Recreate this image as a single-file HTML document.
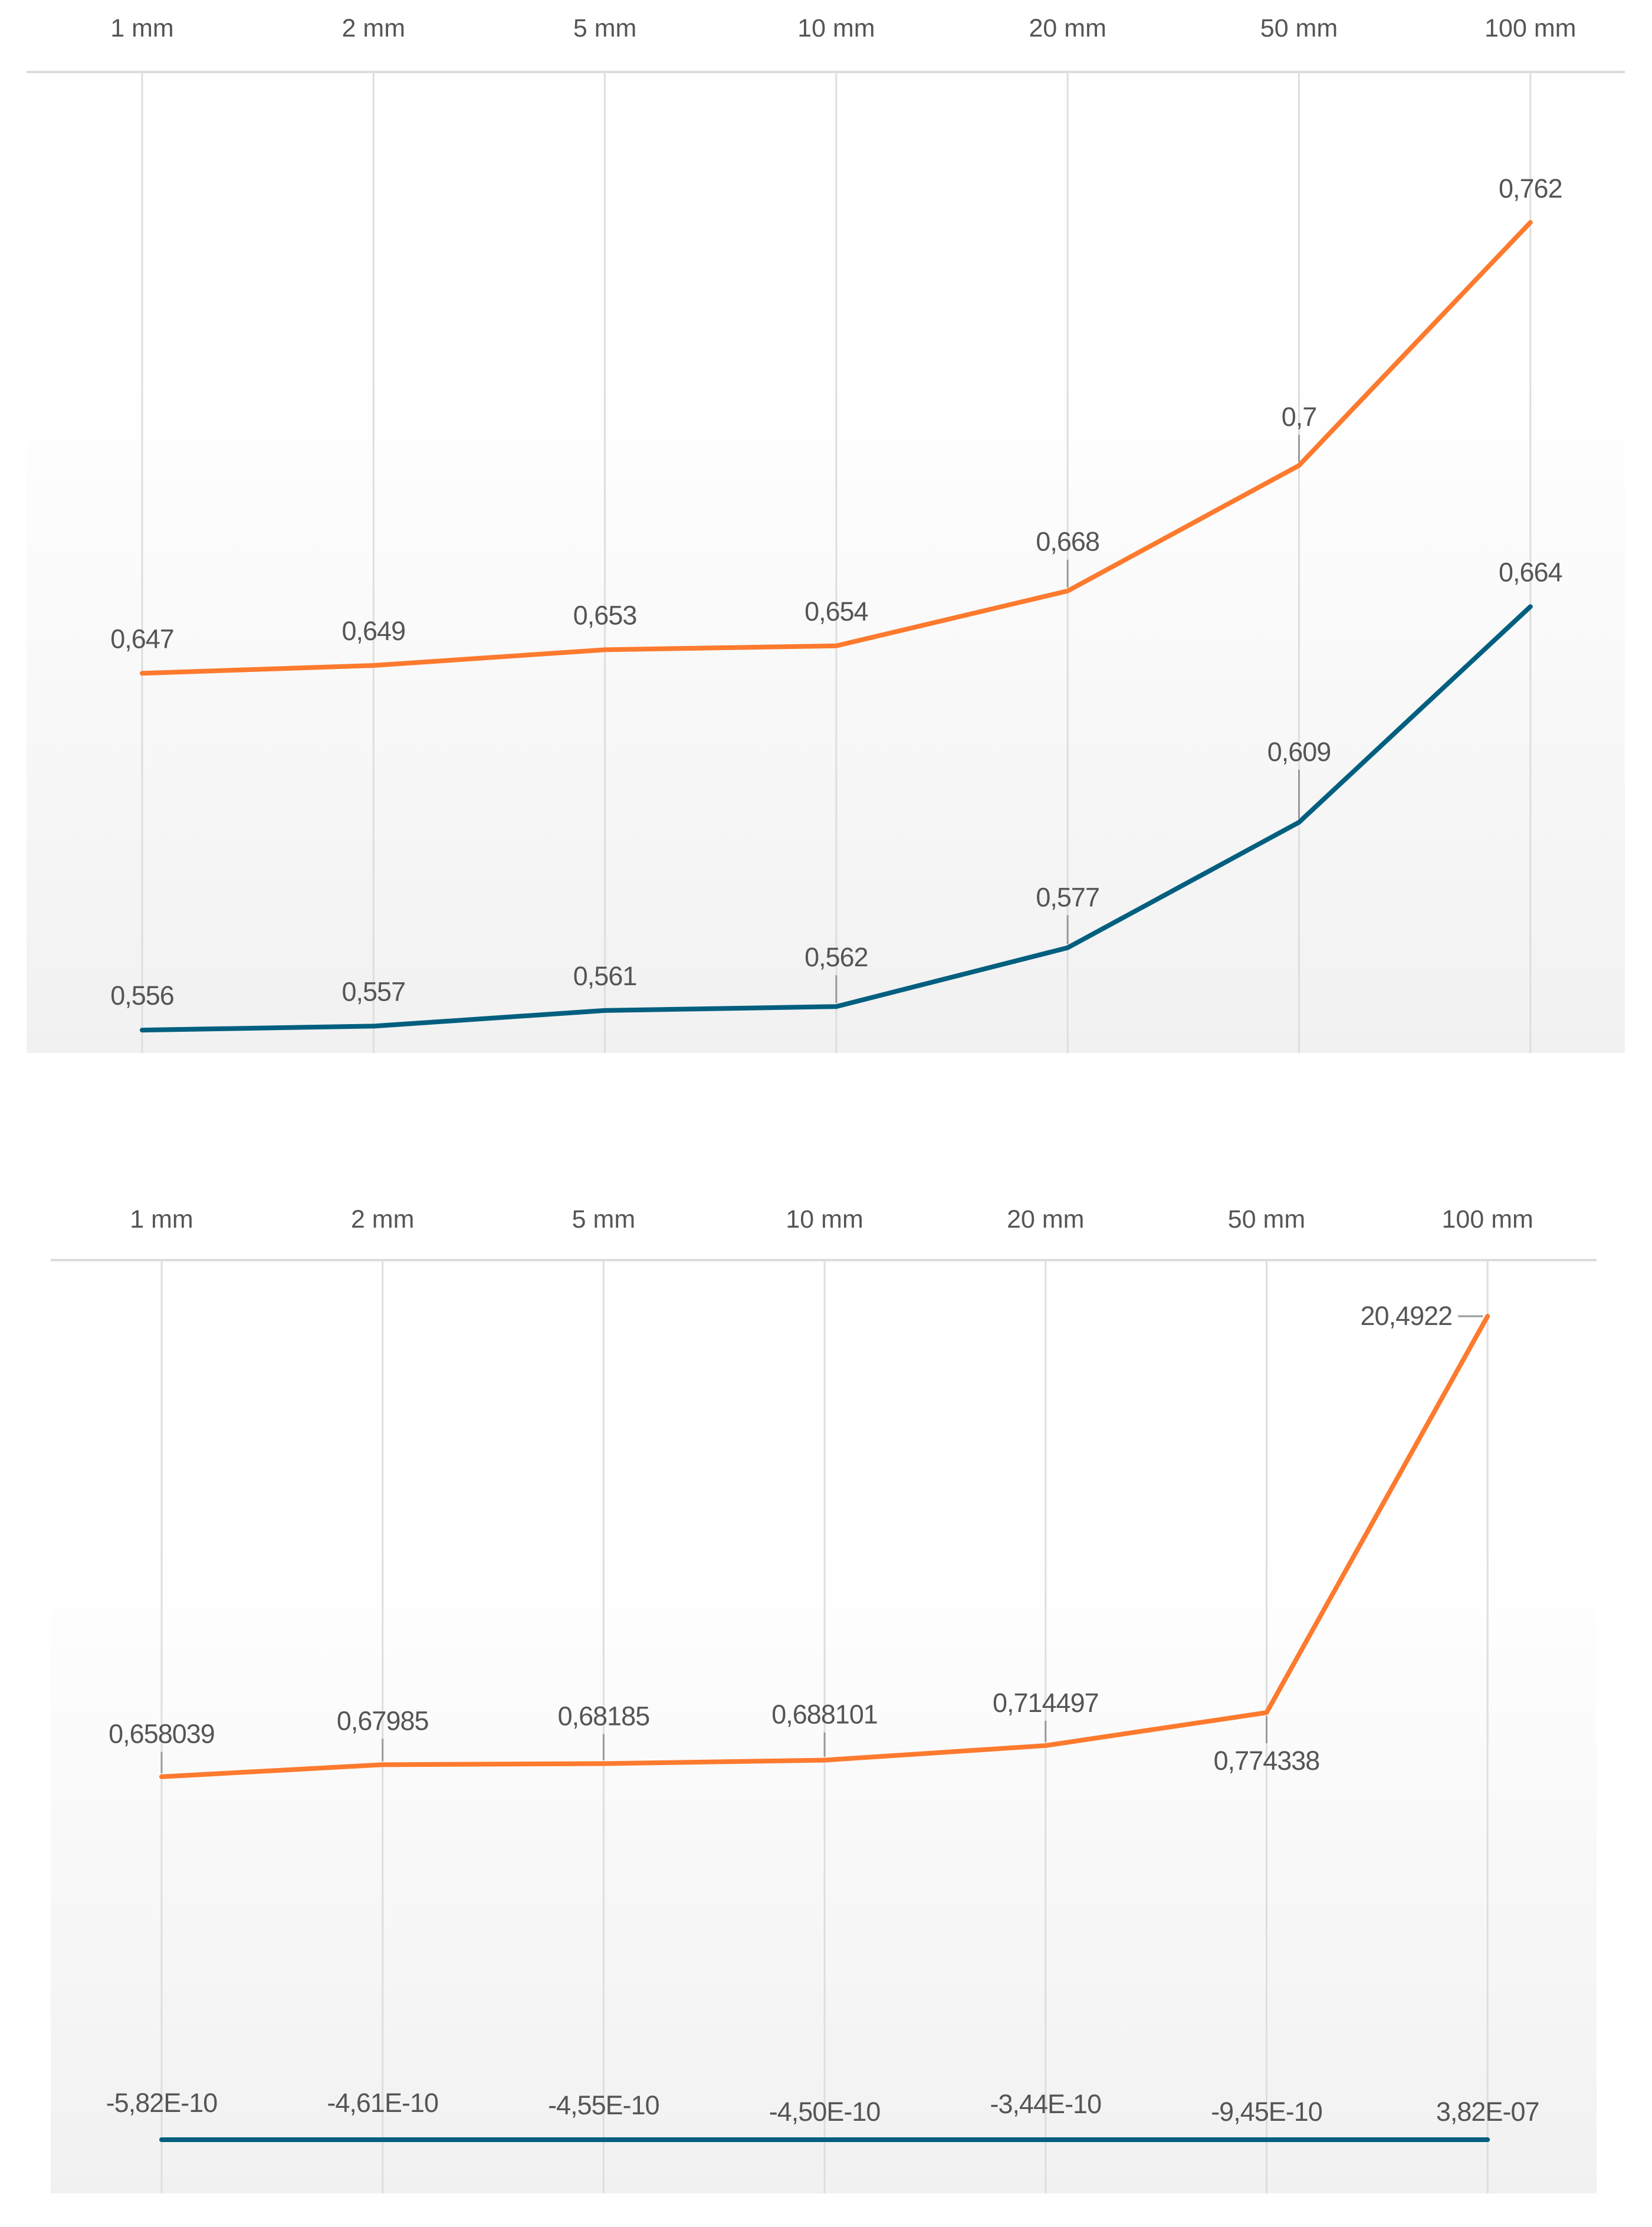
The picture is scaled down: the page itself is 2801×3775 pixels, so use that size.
<!DOCTYPE html>
<html><head><meta charset="utf-8">
<style>
html,body{margin:0;padding:0;background:#fff;}
svg{display:block;}
text{font-family:"Liberation Sans",sans-serif;fill:#555;}
</style></head>
<body>
<svg id="chart" width="2801" height="3775" viewBox="0 0 2801 3775" xmlns="http://www.w3.org/2000/svg">
<defs>
<linearGradient id="bg" x1="0" y1="0" x2="0" y2="1">
<stop offset="0" stop-color="#ffffff"/>
<stop offset="0.3" stop-color="#ffffff"/>
<stop offset="1" stop-color="#f1f1f1"/>
</linearGradient>
</defs>
</svg>
<script>
const categories = ["1 mm","2 mm","5 mm","10 mm","20 mm","50 mm","100 mm"];
const c1Orange = [0.647,0.649,0.653,0.654,0.668,0.7,0.762];
const c1Blue = [0.556,0.557,0.561,0.562,0.577,0.609,0.664];
const c1OrangeLabels = ["0,647","0,649","0,653","0,654","0,668","0,7","0,762"];
const c1BlueLabels = ["0,556","0,557","0,561","0,562","0,577","0,609","0,664"];
const c2Orange = [0.658039,0.67985,0.68185,0.688101,0.714497,0.774338,20.4922];
const c2Blue = [-5.82e-10,-4.61e-10,-4.55e-10,-4.50e-10,-3.44e-10,-9.45e-10,3.82e-07];
const c2OrangeLabels = ["0,658039","0,67985","0,68185","0,688101","0,714497","0,774338","20,4922"];
const c2BlueLabels = ["-5,82E-10","-4,61E-10","-4,55E-10","-4,50E-10","-3,44E-10","-9,45E-10","3,82E-07"];

const svg = document.getElementById('chart');
const NS = "http://www.w3.org/2000/svg";
function mk(tag, attrs){const e=document.createElementNS(NS,tag);for(const k in attrs)e.setAttribute(k,attrs[k]);svg.appendChild(e);return e;}

function drawChart(cfg){
  const bg = mk('rect',{x:cfg.left,y:cfg.top,width:cfg.right-cfg.left,height:cfg.bottom-cfg.top,fill:'url(#bg)'});
  
  
  const hl = mk('line',{x1:cfg.left,x2:cfg.right,y1:cfg.top,y2:cfg.top,stroke:'#dcdcdc','stroke-width':4});
  
  
  const xs = i => cfg.x0 + i*cfg.step;
  categories.forEach((c,i)=>{
    const g = mk('line',{x1:xs(i),x2:xs(i),y1:cfg.top,y2:cfg.bottom,stroke:'#dedede','stroke-width':3});
    
    
    const t = mk('text',{x:xs(i),y:cfg.labelY,'text-anchor':'middle','font-size':43});
    t.textContent = c;
    
    
  });
  cfg.series.forEach(s=>{
    const pts = s.values.map((v,i)=>xs(i)+','+cfg.y(v)).join(' ');
    const pl = mk('polyline',{points:pts,fill:'none',stroke:s.color,'stroke-width':8,'stroke-linejoin':'round','stroke-linecap':'round'});
    
    
    s.values.forEach((v,i)=>{
      const px = xs(i), py = cfg.y(v);
      const off = s.lift[i];
      let tx = px, ty = py - off, anchor='middle';
      if (s.side && s.side[i]==='left'){ tx = px - 60; ty = py; anchor='end';
        const ld = mk('line',{x1:px-50,x2:px-8,y1:py,y2:py,stroke:'#999','stroke-width':3});
        
        
      } else if (Math.abs(off) > 70) {
        const dir = off>0 ? -1 : 1;
        const ld = mk('line',{x1:px,x2:px,y1:py+dir*6,y2:py+dir*(Math.abs(off)-30),stroke:'#999','stroke-width':3});
        
        
      }
      const t = mk('text',{x:tx,y:ty+15,'text-anchor':anchor,'font-size':45,'letter-spacing':-1});
      t.textContent = s.labels[i];
      
      
    });
  });
}

drawChart({
  name:'chart-1', left:45, right:2755, top:122, bottom:1785, labelY:62,
  x0:241, step:392.3,
  y: v => 377 + (0.762 - v)*6646,
  series:[
    {key:'orange', color:'#fd7a2e', values:c1Orange, labels:c1OrangeLabels, lift:[58,58,58,58,83,82,57]},
    {key:'blue', color:'#005f7f', values:c1Blue, labels:c1BlueLabels, lift:[58,58,58,83,85,119,58]}
  ]
});

drawChart({
  name:'chart-2', left:86, right:2707, top:2136, bottom:3718, labelY:2081,
  x0:274, step:374.7,
  y: v => v <= 1 ? 3627 - v*935 : 3627 - 935 - 152.6*Math.log(v),
  series:[
    {key:'orange', color:'#fd7a2e', values:c2Orange, labels:c2OrangeLabels, lift:[72,74,80,77,72,-82,0], side:[0,0,0,0,0,0,'left']},
    {key:'blue', color:'#005f7f', values:c2Blue, labels:c2BlueLabels, lift:[62,62,58,47,60,47,47]}
  ]
});
</script>
</body></html>
